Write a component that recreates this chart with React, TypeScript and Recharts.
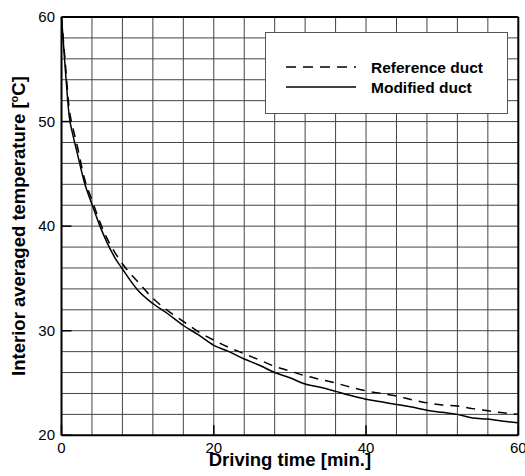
import { LineChart, Line, XAxis, YAxis, ReferenceLine, Label } from 'recharts';

// driving time [min.] and interior averaged temperature [°C]
const time = [0, 0.5, 1, 1.5, 2, 3, 4, 5, 6, 7, 8, 10, 12, 14, 16, 18, 20, 22, 24, 26, 28, 30, 32, 34, 36, 38, 40, 42, 44, 46, 48, 50, 52, 54, 56, 58, 60];
const referenceDuct = [60, 55.6, 51.3, 49.4, 47.9, 44.6, 42.5, 40.5, 38.8, 37.5, 36.4, 34.7, 33.1, 31.9, 30.9, 29.9, 29.1, 28.4, 27.8, 27.2, 26.6, 26.15, 25.7, 25.35, 25.0, 24.6, 24.25, 24.0, 23.75, 23.4, 23.1, 22.9, 22.8, 22.55, 22.35, 22.15, 22.0];
const modifiedDuct = [60, 55, 50.6, 48.7, 47.2, 44.2, 42.1, 40.1, 38.4, 37.0, 35.9, 33.9, 32.6, 31.6, 30.5, 29.6, 28.6, 28.0, 27.3, 26.7, 26.0, 25.5, 24.9, 24.6, 24.2, 23.8, 23.45, 23.2, 22.95, 22.7, 22.4, 22.2, 22.0, 21.65, 21.55, 21.35, 21.2];

const xTicks = [0, 20, 40, 60];
const yTicks = [20, 30, 40, 50, 60];
const xGrid = [4, 8, 12, 16, 20, 24, 28, 32, 36, 40, 44, 48, 52, 56];
const yGrid = [22, 24, 26, 28, 30, 32, 34, 36, 38, 40, 42, 44, 46, 48, 50, 52, 54, 56, 58];

const series = [
    { key: 'ref', name: 'Reference duct', dash: '9 7' },
    { key: 'mod', name: 'Modified duct', dash: undefined as string | undefined },
];

const data = time.map((t, i) => ({ t, ref: referenceDuct[i], mod: modifiedDuct[i] }));

const FONT = '"Liberation Sans", Arial, sans-serif';

const XTick = (props: any) => {
    const { x, y, payload } = props;
    return (
        <g>
            <line x1={x} y1={y} x2={x} y2={y - 10} stroke="#000" strokeWidth={1.5} />
            <text x={x} y={y + 17.5} textAnchor="middle" fontSize={15} fontFamily={FONT} fill="#000">
                {payload.value}
            </text>
        </g>
    );
};

const YTick = (props: any) => {
    const { x, y, payload } = props;
    return (
        <g>
            <line x1={x} y1={y} x2={x + 10} y2={y} stroke="#000" strokeWidth={1.5} />
            <text x={x - 6.5} y={y + 5} textAnchor="end" fontSize={15} fontFamily={FONT} fill="#000">
                {payload.value}
            </text>
        </g>
    );
};

const YTitle = () => (
    <text
        x={25}
        y={226}
        transform="rotate(-90, 25, 226)"
        textAnchor="middle"
        fontSize={18.5}
        fontWeight="bold"
        fontFamily={FONT}
        fill="#000"
    >
        Interior averaged temperature [
        <tspan fontSize={11} dy={-7}>o</tspan>
        <tspan dy={7}>C]</tspan>
    </text>
);

const App = () => {
    return (
        <div style={{ position: 'absolute', left: 0, top: 0, width: 525, height: 476, background: '#fff' }}>
            <LineChart width={525} height={476} data={data} margin={{ top: 17, right: 6.7, bottom: 0, left: 0 }}>
                {xGrid.map(v => (
                    <ReferenceLine key={`gx-${v}`} x={v} stroke="#444" strokeWidth={1} />
                ))}
                {yGrid.map(v => (
                    <ReferenceLine key={`gy-${v}`} y={v} stroke="#444" strokeWidth={1} />
                ))}
                <ReferenceLine x={60} stroke="#000" strokeWidth={2} />
                <ReferenceLine y={60} stroke="#000" strokeWidth={2} />
                <XAxis
                    dataKey="t"
                    type="number"
                    domain={[0, 60]}
                    ticks={xTicks}
                    height={40.7}
                    tickSize={0}
                    tickMargin={0}
                    tickLine={false}
                    tick={<XTick />}
                    axisLine={{ stroke: '#000', strokeWidth: 2 }}
                    interval={0}
                >
                    <Label
                        value="Driving time [min.]"
                        position="insideBottom"
                        offset={10}
                        style={{ fontSize: 18.5, fontWeight: 'bold', fontFamily: FONT, fill: '#000' }}
                    />
                </XAxis>
                <YAxis
                    type="number"
                    domain={[20, 60]}
                    ticks={yTicks}
                    width={61.5}
                    tickSize={0}
                    tickMargin={0}
                    tickLine={false}
                    tick={<YTick />}
                    axisLine={{ stroke: '#000', strokeWidth: 2 }}
                    interval={0}
                    label={<YTitle />}
                />
                {series.map(s => (
                    <Line
                        key={s.key}
                        dataKey={s.key}
                        name={s.name}
                        type="monotone"
                        stroke="#000"
                        strokeWidth={1.5}
                        strokeDasharray={s.dash}
                        dot={false}
                        isAnimationActive={false}
                    />
                ))}
            </LineChart>

            <div
                style={{
                    position: 'absolute',
                    left: 265,
                    top: 32,
                    width: 241,
                    height: 80,
                    background: '#fff',
                    border: '1px solid #555',
                }}
            >
                <svg width={241} height={80}>
                    {series.map((s, i) => (
                        <g key={s.key}>
                            <line
                                x1={20}
                                x2={90}
                                y1={34 + i * 20}
                                y2={34 + i * 20}
                                stroke="#000"
                                strokeWidth={1.5}
                                strokeDasharray={s.dash ? '10 7' : undefined}
                            />
                            <text
                                x={105}
                                y={39.5 + i * 20}
                                fontSize={15.5}
                                fontWeight="bold"
                                fontFamily={FONT}
                                fill="#000"
                            >
                                {s.name}
                            </text>
                        </g>
                    ))}
                </svg>
            </div>
        </div>
    );
};

export default App;
